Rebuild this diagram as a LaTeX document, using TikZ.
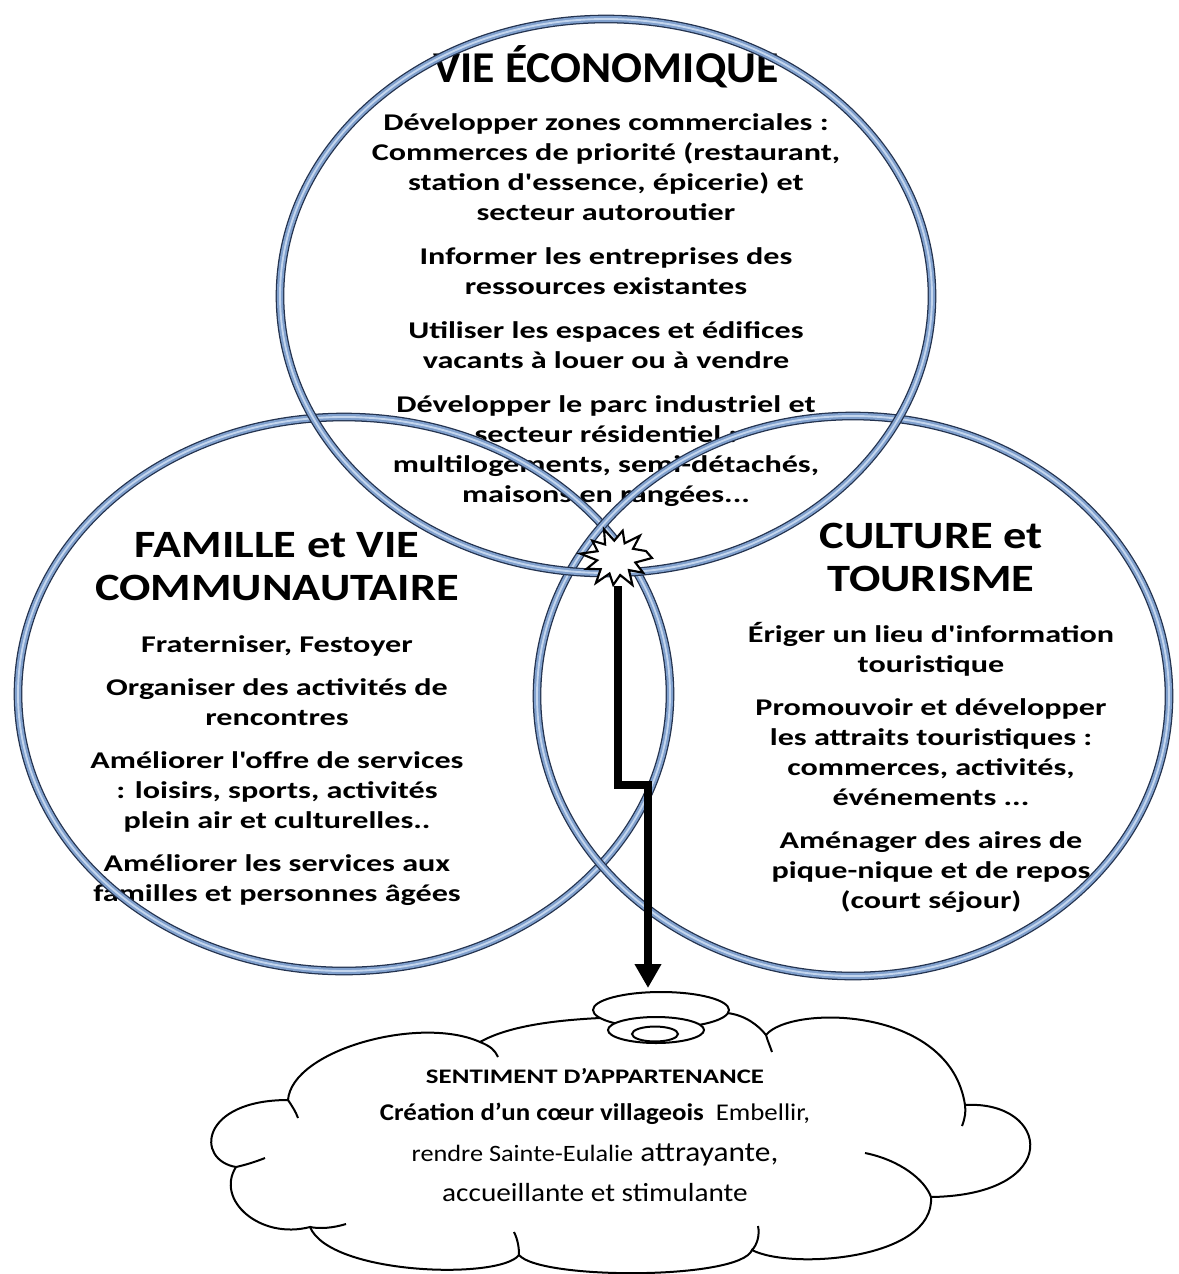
\documentclass[tikz,border=0pt]{standalone}
\usepackage{fontspec}
\setmainfont{Carlito}
\newfontfamily\wide{Carlito}[FakeStretch=1.34]
\newfontfamily\headf{Carlito}[FakeStretch=1.2]
\newfontfamily\titlef{Carlito}[FakeStretch=1.04]
\newfontfamily\cloudf{Carlito}[FakeStretch=1.12]
\newfontfamily\sentf{Carlito}[FakeStretch=1.3]
\usetikzlibrary{arrows.meta}
\definecolor{ringdark}{RGB}{35,50,78}
\definecolor{ringmid}{RGB}{128,160,205}
\definecolor{ringlight}{RGB}{196,214,238}
\tikzset{
  body/.style={font=\wide\bfseries\fontsize{18}{22.5}\selectfont, align=center, inner sep=0pt, anchor=north},
  head/.style={font=\headf\bfseries\fontsize{29}{32.25}\selectfont, align=center, inner sep=0pt, anchor=north},
  ringlook/.style={draw=ringdark, line width=6.5pt,
     postaction={draw=ringmid, line width=4.6pt},
     postaction={draw=ringlight, line width=1.4pt}},
  flow/.style={line width=6pt, line join=miter, -{Triangle[width=19pt,length=18pt]}},
  burststyle/.style={draw=black, fill=white, line width=1.6pt, line join=miter},
  cloudline/.style={draw=black, line width=1.5pt},
  ctext/.style={anchor=base, inner sep=0pt},
}
\begin{document}
\begin{tikzpicture}[x=0.75pt,y=-0.75pt]
\useasboundingbox (0,0) rectangle (1178,1274);
\fill[white] (0,0) rectangle (1178,1274);

% ---------- texts ----------
\node[anchor=base, inner sep=0pt, font=\titlef\bfseries\fontsize{33}{36}\selectfont] (ecotitle) at (606,82) {VIE ÉCONOMIQUE};
\node[body] (ecobody) at (606,109) {\strut Développer zones commerciales :\\
Commerces de priorité (restaurant,\\
station d'essence, épicerie) et\\
secteur autoroutier\\[10.5pt]
Informer les entreprises des\\
ressources existantes\\[10.5pt]
Utiliser les espaces et édifices\\
vacants à louer ou à vendre\\[10.5pt]
Développer le parc industriel et\\
secteur résidentiel :\\
multilogements, semi-détachés,\\
maisons en rangées...};

\node[head] (famtitle) at (277,527) {\strut FAMILLE et VIE\\COMMUNAUTAIRE};
\node[body] (fambody) at (277,631) {\strut Fraterniser, Festoyer\\[9.75pt]
Organiser des activités de\\
rencontres\\[9.75pt]
Améliorer l'offre de services\\
: loisirs, sports, activités\\
plein air et culturelles..\\[9.75pt]
Améliorer les services aux\\
familles et personnes âgées};

\node[head] (culttitle) at (931,518) {\strut CULTURE et\\TOURISME};
\node[body] (cultbody) at (931,621) {\strut Ériger un lieu d'information\\
touristique\\[9.75pt]
Promouvoir et développer\\
les attraits touristiques :\\
commerces, activités,\\
événements ...\\[9.75pt]
Aménager des aires de\\
pique-nique et de repos\\
(court séjour)};

% ---------- rings ----------
\draw[ringlook] (344,694) ellipse [x radius=244.5pt, y radius=207.75pt];
\draw[ringlook] (853,696) ellipse [x radius=237pt, y radius=210pt];
\draw[ringlook] (606,296) ellipse [x radius=244.5pt, y radius=207.75pt];

% ---------- burst and arrow ----------
\node[circle, minimum size=42pt, inner sep=0pt] (burst) at (618,558) {};
\coordinate (bendA) at (618,785);
\coordinate (bendB) at (648,785);
\coordinate (cloudtop) at (648,988);
\draw[flow] (burst.south) -- (bendA) -- (bendB) -- (cloudtop);
\draw[burststyle, shift={(616,558)}, yscale=0.87]
  (0:36) \foreach \a/\r in {15/20,32/32,47/19,62/35,78/20,95/31,110/19,125/35,140/20,157/32,172/19,188/36,203/20,220/31,235/19,250/35,265/20,282/32,297/19,313/35,328/20,345/31} { -- (\a:\r) } -- cycle;

% ---------- cloud ----------
\draw[cloudline, fill=white]
  (288,1100) .. controls (292,1050) and (420,1015) .. (480,1042)
  .. controls (510,1025) and (560,1020) .. (600,1018)
  -- (661,1012) -- (727,1013)
  .. controls (745,1015) and (758,1025) .. (766,1035)
  .. controls (790,1005) and (950,1005) .. (965,1105)
  .. controls (1050,1100) and (1065,1195) .. (931,1197)
  .. controls (935,1260) and (790,1270) .. (752,1250)
  .. controls (740,1280) and (540,1280) .. (519,1255)
  .. controls (500,1280) and (330,1275) .. (310,1227)
  .. controls (260,1240) and (215,1200) .. (236,1167)
  .. controls (195,1160) and (200,1100) .. (288,1100) -- cycle;
\draw[cloudline] (480,1042) .. controls (490,1046) and (495,1050) .. (498,1057);
\draw[cloudline] (766,1035) .. controls (768,1042) and (770,1046) .. (772,1052);
\draw[cloudline] (965,1105) .. controls (966,1112) and (965,1118) .. (962,1126);
\draw[cloudline] (865,1153) .. controls (900,1160) and (925,1180) .. (931,1197);
\draw[cloudline] (758,1226) .. controls (760,1235) and (757,1245) .. (752,1250);
\draw[cloudline] (514,1232) .. controls (518,1240) and (519,1248) .. (519,1255);
\draw[cloudline] (346,1224) .. controls (333,1228) and (320,1229) .. (310,1227);
\draw[cloudline] (236,1167) .. controls (245,1165) and (255,1162) .. (265,1158);
\draw[cloudline] (288,1100) .. controls (292,1106) and (296,1112) .. (298,1118);
\draw[cloudline, fill=white] (661,1010) ellipse [x radius=51pt, y radius=13.5pt];
\draw[cloudline, fill=white] (656,1030) ellipse [x radius=36pt, y radius=9.75pt];
\draw[cloudline, fill=white] (655,1034) ellipse [x radius=17.25pt, y radius=5.6pt];

\node[ctext, font=\sentf\bfseries\fontsize{15.5}{18}\selectfont] (sent) at (595,1083) {SENTIMENT D’APPARTENANCE};
\node[ctext, font=\cloudf\fontsize{18}{21}\selectfont] (crea) at (595,1120) {\textbf{Création d’un cœur villageois}\enspace Embellir,};
\node[ctext, font=\cloudf\fontsize{21}{24}\selectfont] (rendre) at (595,1161) {{\fontsize{17.6}{20}\selectfont rendre Sainte-Eulalie} attrayante,};
\node[ctext, font=\cloudf\fontsize{19.6}{23}\selectfont] (accu) at (595,1201) {accueillante et stimulante};
\end{tikzpicture}
\end{document}
